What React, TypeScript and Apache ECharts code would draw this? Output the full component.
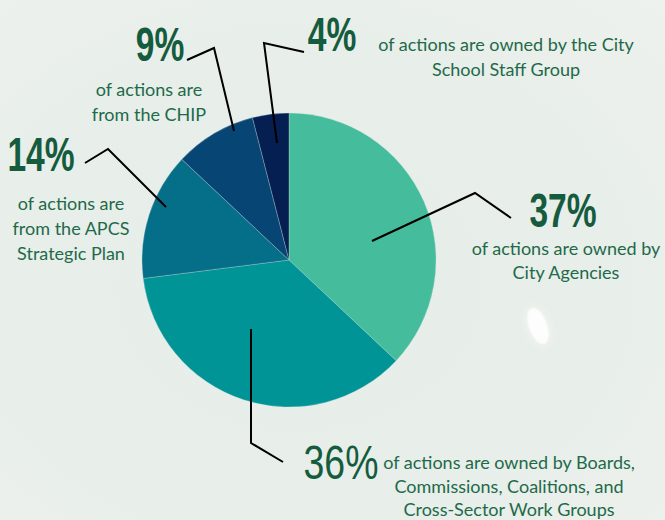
import React, { useEffect, useRef } from "react";
import * as echarts from "echarts";

const categories = [
  "of actions are owned by City Agencies",
  "of actions are owned by Boards, Commissions, Coalitions, and Cross-Sector Work Groups",
  "of actions are from the APCS Strategic Plan",
  "of actions are from the CHIP",
  "of actions are owned by the City School Staff Group",
];
const values = [37, 36, 14, 9, 4];
const percentLabels = ["37%", "36%", "14%", "9%", "4%"];
const bodyLines = [
  ["of actions are owned by", "City Agencies"],
  ["of actions are owned by Boards,", "Commissions, Coalitions, and", "Cross-Sector Work Groups"],
  ["of actions are", "from the APCS", "Strategic Plan"],
  ["of actions are", "from the CHIP"],
  ["of actions are owned by the City", "School Staff Group"],
];
const colors = ["#45BD9C", "#009496", "#056E88", "#074574", "#061F52"];

// layout (positions of annotations)
const pctPos = [
  [563, 210],
  [341, 462],
  [41, 154],
  [160, 44],
  [332, 34],
];
const bodyPos = [
  [566, 248],
  [509, 462],
  [71, 203],
  [149, 89],
  [506, 44],
];
const bodyGap = [24, 23.5, 25, 25, 25];
const leaderPts = [
  [[372, 241], [475, 193], [511, 218]],
  [[251, 329], [251, 443], [283, 462]],
  [[166, 207], [108, 149], [85, 163]],
  [[234, 131], [214, 48], [187, 60]],
  [[277, 143], [264, 43], [304, 52]],
];

const PCT_COLOR = "#155B3D";
const BODY_COLOR = "#1E6A4A";

export default function App() {
  const ref = useRef<HTMLDivElement>(null);
  useEffect(() => {
    if (!ref.current) return;
    const chart = echarts.init(ref.current, null, { renderer: "svg" });
    const graphics: any[] = [];
    // soft white blob in the background
    graphics.push({
      type: "ellipse",
      shape: { cx: 0, cy: 0, rx: 9, ry: 19 },
      x: 538,
      y: 326,
      rotation: 0.35,
      z: -10,
      style: { fill: "rgba(255,255,255,0.75)", shadowBlur: 10, shadowColor: "rgba(255,255,255,0.9)" },
    });
    values.forEach((_, i) => {
      graphics.push({
        type: "polyline",
        shape: { points: leaderPts[i] },
        z: 10,
        style: { stroke: "#000", lineWidth: 2, fill: null },
      });
      const isWide = i === 1;
      graphics.push({
        type: "text",
        x: pctPos[i][0],
        y: pctPos[i][1],
        scaleX: isWide ? 0.78 : 0.7,
        z: 10,
        style: {
          text: percentLabels[i],
          fill: PCT_COLOR,
          font: `${isWide ? "normal" : "bold"} 48px "Liberation Sans Narrow", "Liberation Sans", sans-serif`,
          textAlign: "center",
          textVerticalAlign: "middle",
        },
      });
      bodyLines[i].forEach((line, j) => {
        graphics.push({
          type: "text",
          x: bodyPos[i][0],
          y: bodyPos[i][1] + j * bodyGap[i],
          z: 10,
          style: {
            text: line,
            fill: BODY_COLOR,
            font: `normal 18px Lato, "Noto Sans", sans-serif`,
            textAlign: "center",
            textVerticalAlign: "middle",
          },
        });
      });
    });

    chart.setOption({
      animation: false,
      backgroundColor: {
        type: "radial",
        x: 0.45,
        y: 0.55,
        r: 0.8,
        colorStops: [
          { offset: 0, color: "#E7EEE9" },
          { offset: 0.6, color: "#E8EEE9" },
          { offset: 1, color: "#EEF2EE" },
        ],
      },
      series: [
        {
          type: "pie",
          center: [289, 260],
          radius: 147,
          startAngle: 90,
          clockwise: true,
          label: { show: false },
          labelLine: { show: false },
          emphasis: { disabled: true },
          itemStyle: { borderWidth: 0.5, borderColor: "rgba(200,220,215,0.6)" },
          data: values.map((v, i) => ({
            value: v,
            name: categories[i],
            itemStyle: { color: colors[i] },
          })),
        },
      ],
      graphic: graphics,
    });
    return () => chart.dispose();
  }, []);
  return (
    <div
      ref={ref}
      style={{ position: "absolute", left: 0, top: 0, width: 665, height: 520 }}
    />
  );
}
